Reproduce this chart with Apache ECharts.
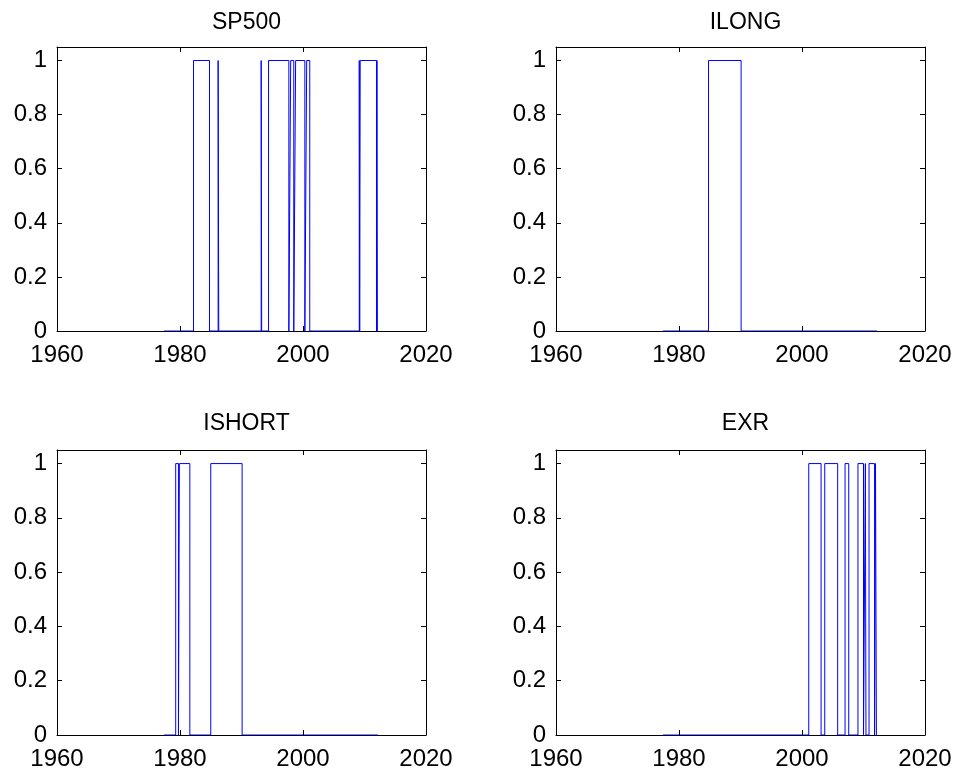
<!DOCTYPE html>
<html><head><meta charset="utf-8">
<script src="https://cdn.jsdelivr.net/npm/echarts@6/dist/echarts.min.js"></script>
<style>html,body{margin:0;padding:0;background:#fff}#c{width:958px;height:773px}</style>
</head><body><div id="c"></div>
<script>
// Panel titles
const titles = ['SP500', 'ILONG', 'ISHORT', 'EXR'];
// Sample span (years)
const sampleStart = 1977.4;
const sampleEnd = 2012.2;
// Regime = 1 periods: start and end years for each series
const sp500On  = [1982.2, 1986.2, 1993.2, 1994.4, 1998.0, 1998.8, 2000.6, 2009.15, 2009.3, 2012.02];
const sp500Off = [1984.8, 1986.3, 1993.28, 1997.7, 1998.5, 2000.3, 2001.1, 2009.22, 2011.95, 2012.1];
const ilongOn  = [1984.8];
const ilongOff = [1990.1];
const ishortOn  = [1979.3, 1979.9, 1985.0];
const ishortOff = [1979.75, 1981.6, 1990.1];
const exrOn  = [2001.1, 2003.7, 2007.0, 2009.1, 2010.3, 2010.9, 2011.95];
const exrOff = [2003.1, 2005.8, 2007.6, 2010.0, 2010.4, 2011.8, 2012.1];
// Axis ticks
const xTicks = [1960, 1980, 2000, 2020];
const yTicks = [0, 0.2, 0.4, 0.6, 0.8, 1];

function buildSteps(on, off) {
  const pts = [[sampleStart, 0]];
  for (let i = 0; i < on.length; i++) {
    pts.push([on[i], 0], [on[i], 1], [off[i], 1], [off[i], 0]);
  }
  pts.push([sampleEnd, 0]);
  return pts;
}
const seriesData = [
  buildSteps(sp500On, sp500Off),
  buildSteps(ilongOn, ilongOff),
  buildSteps(ishortOn, ishortOff),
  buildSteps(exrOn, exrOff)
];

const font = 'Liberation Sans, Arial, sans-serif';
const grids = [
  {left: 57, top: 47, width: 369, height: 284},
  {left: 556, top: 47, width: 369, height: 284},
  {left: 57, top: 450, width: 369, height: 285},
  {left: 556, top: 450, width: 369, height: 285}
];
const titleTops = [6, 6, 407, 407];
const xAxes = [], yAxes = [], series = [], titleOpts = [];
grids.forEach((g, i) => {
  const xBase = {
    type: 'value', gridIndex: i, min: xTicks[0], max: xTicks[xTicks.length - 1],
    interval: xTicks[1] - xTicks[0],
    axisLine: {show: true, onZero: false, lineStyle: {color: '#000', width: 1}},
    axisTick: {show: true, inside: true, length: 5, lineStyle: {color: '#000'}},
    splitLine: {show: false}
  };
  xAxes.push(Object.assign({}, xBase, {
    position: 'bottom',
    axisLabel: {show: true, color: '#000', fontSize: 24, fontFamily: font, margin: 12,
      formatter: v => String(Math.round(v))}
  }));
  xAxes.push(Object.assign({}, xBase, {position: 'top', axisLabel: {show: false}}));
  const yBase = {
    type: 'value', gridIndex: i, min: yTicks[0], max: 1.05, interval: 0.2,
    axisLine: {show: true, onZero: false, lineStyle: {color: '#000', width: 1}},
    axisTick: {show: true, inside: true, length: 5, lineStyle: {color: '#000'}},
    splitLine: {show: false}
  };
  yAxes.push(Object.assign({}, yBase, {
    position: 'left',
    axisLabel: {show: true, color: '#000', fontSize: 24, fontFamily: font, margin: 10,
      showMaxLabel: false, formatter: v => (Math.abs(v - 1.05) < 1e-6 ? '' : String(+v.toFixed(1)))}
  }));
  yAxes.push(Object.assign({}, yBase, {position: 'right', axisLabel: {show: false}}));
  series.push({
    type: 'line', xAxisIndex: 2 * i, yAxisIndex: 2 * i, data: seriesData[i],
    showSymbol: false, symbol: 'none', animation: false,
    lineStyle: {color: '#0000ff', width: 1}, clip: true
  });
  titleOpts.push({
    text: titles[i], left: g.left + g.width / 2, top: titleTops[i], textAlign: 'center',
    textStyle: {color: '#000', fontSize: 23, fontWeight: 'normal', fontFamily: font}
  });
});

const chart = echarts.init(document.getElementById('c'), null, {renderer: 'canvas'});
chart.setOption({
  backgroundColor: '#fff',
  animation: false,
  title: titleOpts,
  grid: grids,
  xAxis: xAxes,
  yAxis: yAxes,
  series: series
});
</script></body></html>
